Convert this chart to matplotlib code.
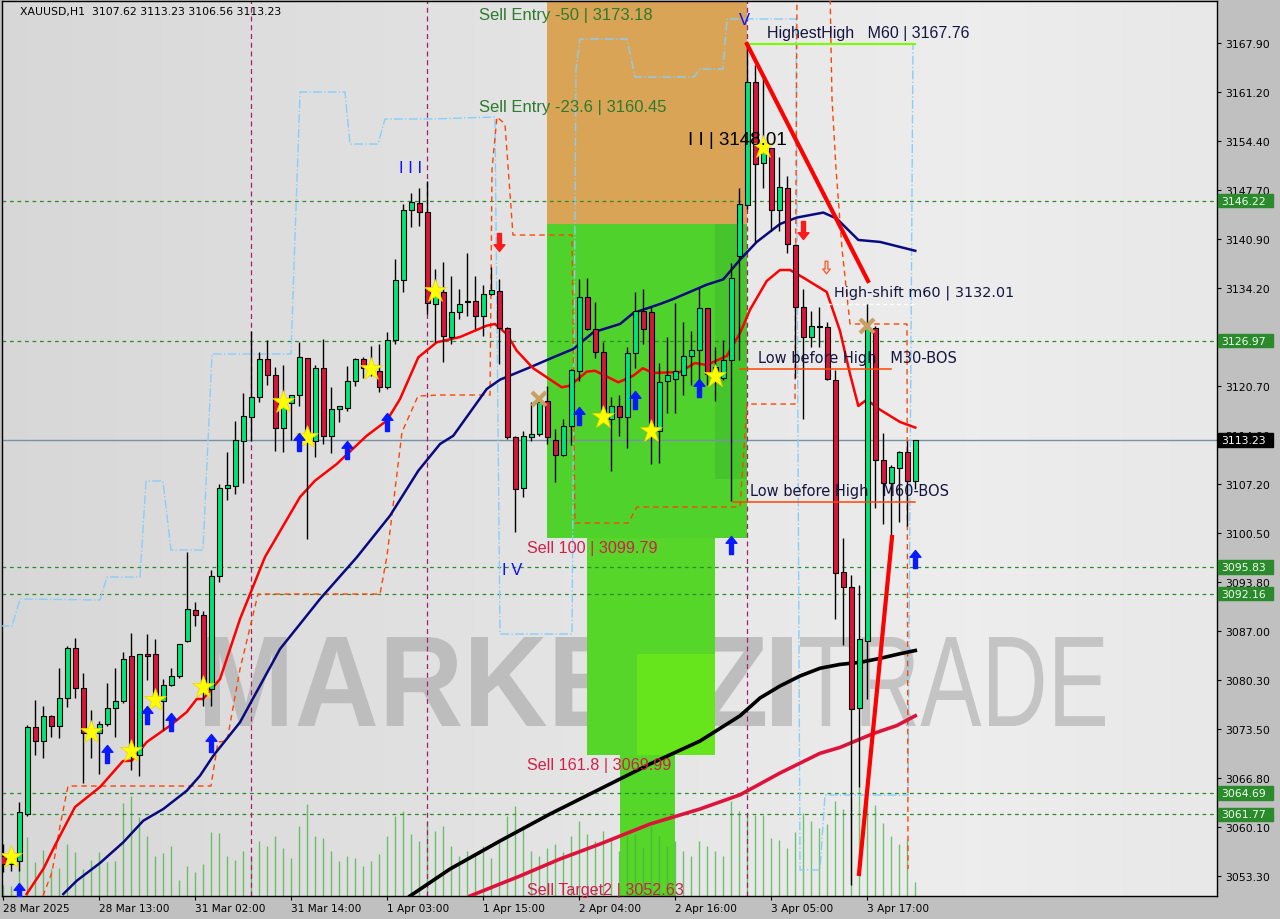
import numpy as np
import matplotlib.pyplot as plt
from matplotlib.path import Path
from matplotlib.patches import Rectangle, PathPatch
from matplotlib.textpath import TextPath
from matplotlib.font_manager import FontProperties
from matplotlib.transforms import blended_transform_factory, Affine2D

# XAUUSD H1 -- bar 0 = 28 Mar 2025 01:00, bar 114 = 3 Apr 2025 23:00
opens = [3056.09, 3054.95, 3055.41, 3061.83, 3073.76, 3071.83, 3075.31, 3073.89, 3077.75, 3084.63,
         3079.12, 3072.56, 3072.93, 3074.17, 3076.37, 3077.33, 3083.52, 3069.99, 3083.80, 3083.80,
         3077.33, 3079.62, 3080.77, 3085.59, 3089.94, 3089.21, 3079.03, 3094.61, 3106.64, 3106.91,
         3113.19, 3116.40, 3119.16, 3124.38, 3122.22, 3114.89, 3118.33, 3119.43, 3124.52, 3113.19,
         3123.15, 3113.79, 3117.55, 3117.73, 3121.36, 3124.38, 3123.32, 3122.73, 3120.53, 3127.08,
         3135.33, 3144.96, 3145.84, 3144.61, 3131.99, 3133.60, 3127.41, 3130.85, 3132.34, 3132.36,
         3130.30, 3133.33, 3133.74, 3128.65, 3113.65, 3106.64, 3113.65, 3114.07, 3118.61, 3113.32,
         3111.26, 3115.17, 3122.81, 3132.91, 3128.55, 3125.43, 3116.17, 3117.92, 3116.40, 3125.21,
         3131.03, 3130.93, 3114.51, 3121.40, 3121.67, 3122.27, 3124.84, 3125.70, 3131.44, 3123.34,
         3121.77, 3124.23, 3138.58, 3145.56, 3162.55, 3151.35, 3153.41, 3144.96, 3147.91, 3140.15,
         3131.59, 3127.52, 3128.84, 3128.84, 3121.56, 3095.19, 3093.02, 3076.43, 3085.67, 3128.63,
         3110.53, 3107.42, 3109.44, 3111.62, 3107.62]
highs = [3057.70, 3057.02, 3063.44, 3074.07, 3077.55, 3076.73, 3075.45, 3081.92, 3084.98, 3086.00,
         3081.19, 3076.14, 3074.62, 3079.85, 3081.92, 3084.07, 3086.73, 3083.84, 3086.59, 3085.86,
         3080.40, 3081.87, 3085.22, 3097.91, 3090.95, 3089.80, 3095.44, 3107.23, 3111.59, 3115.90,
         3119.75, 3128.24, 3125.35, 3127.04, 3123.28, 3123.60, 3119.47, 3126.72, 3124.60, 3123.60,
         3127.18, 3120.53, 3118.00, 3123.50, 3124.52, 3124.66, 3126.25, 3126.49, 3128.10, 3138.18,
         3145.75, 3147.26, 3147.91, 3148.95, 3136.81, 3137.73, 3135.80, 3134.05, 3139.01, 3135.80,
         3134.60, 3137.04, 3135.43, 3128.80, 3113.80, 3114.48, 3118.47, 3119.38, 3120.75, 3114.79,
         3116.17, 3123.00, 3135.43, 3135.53, 3132.22, 3126.80, 3119.16, 3119.47, 3126.03, 3133.68,
         3134.05, 3131.54, 3123.83, 3127.52, 3132.18, 3129.51, 3128.28, 3134.25, 3131.50, 3126.08,
         3127.04, 3137.59, 3147.91, 3167.76, 3164.87, 3163.14, 3153.50, 3152.23, 3149.63, 3140.30,
         3134.05, 3130.96, 3131.59, 3129.49, 3122.93, 3099.81, 3094.76, 3093.29, 3132.01, 3128.90,
         3114.22, 3109.87, 3111.70, 3113.14, 3113.23]
lows = [3053.85, 3053.99, 3054.03, 3061.60, 3069.95, 3069.53, 3072.46, 3072.29, 3076.59, 3077.75,
        3066.05, 3069.53, 3067.33, 3073.94, 3072.46, 3077.10, 3067.92, 3067.10, 3080.31, 3077.20,
        3073.43, 3079.40, 3080.60, 3085.49, 3087.73, 3076.73, 3076.73, 3093.79, 3105.07, 3105.85,
        3107.37, 3113.19, 3118.55, 3120.85, 3111.81, 3111.67, 3113.32, 3118.00, 3099.66, 3110.90,
        3112.73, 3111.49, 3115.80, 3117.31, 3120.75, 3121.77, 3122.13, 3119.93, 3120.30, 3126.49,
        3133.68, 3142.54, 3142.76, 3130.62, 3126.72, 3124.05, 3126.49, 3129.93, 3130.38, 3128.55,
        3127.63, 3133.20, 3123.74, 3113.42, 3100.67, 3105.40, 3113.19, 3113.87, 3112.73, 3107.54,
        3111.04, 3112.59, 3121.36, 3128.40, 3124.52, 3115.72, 3109.06, 3113.87, 3112.14, 3123.15,
        3126.49, 3109.98, 3110.08, 3116.95, 3116.95, 3119.42, 3120.89, 3120.89, 3120.89, 3118.67,
        3121.60, 3104.92, 3124.33, 3145.00, 3140.53, 3147.91, 3142.03, 3142.03, 3139.06, 3121.87,
        3116.23, 3126.05, 3126.05, 3121.48, 3088.67, 3085.13, 3052.06, 3065.56, 3077.65, 3103.90,
        3101.73, 3100.08, 3102.00, 3101.45, 3106.56]
closes = [3054.95, 3056.05, 3062.06, 3073.76, 3071.83, 3075.31, 3073.89, 3077.79, 3084.63, 3079.12,
          3072.93, 3073.52, 3074.17, 3076.37, 3077.33, 3083.11, 3070.54, 3083.80, 3083.61, 3077.33,
          3079.62, 3080.77, 3085.18, 3089.99, 3089.21, 3079.03, 3094.61, 3106.64, 3107.09, 3113.28,
          3116.54, 3119.16, 3124.38, 3122.22, 3114.89, 3118.51, 3119.43, 3124.66, 3113.19, 3123.15,
          3113.79, 3117.55, 3117.92, 3121.36, 3124.38, 3123.15, 3122.36, 3120.53, 3127.08, 3135.33,
          3144.96, 3145.98, 3144.61, 3132.13, 3133.37, 3127.55, 3130.85, 3132.03, 3132.27, 3130.38,
          3133.33, 3133.88, 3128.65, 3113.65, 3106.54, 3113.79, 3114.07, 3118.47, 3113.65, 3111.26,
          3115.17, 3122.91, 3132.91, 3128.55, 3125.43, 3116.62, 3117.92, 3116.40, 3125.21, 3131.07,
          3128.55, 3115.25, 3121.27, 3122.27, 3122.77, 3124.84, 3125.70, 3131.44, 3122.36, 3122.61,
          3124.23, 3135.62, 3145.69, 3162.55, 3151.25, 3153.07, 3144.96, 3148.06, 3140.30, 3131.59,
          3127.52, 3128.99, 3128.76, 3121.62, 3094.92, 3093.02, 3076.28, 3085.95, 3128.63, 3110.53,
          3107.42, 3109.55, 3111.62, 3107.62, 3113.23]
volumes = [440, 400, 1360, 2360, 1360, 1840, 1080, 1120, 2080, 1760,
           1080, 1440, 1760, 1360, 1400, 3720, 4000, 3160, 2400, 1600,
           1720, 2000, 640, 1200, 960, 1280, 2560, 2520, 1600, 1440,
           1800, 1600, 2200, 2000, 2400, 1920, 1520, 2800, 3680, 2400,
           2320, 1800, 1400, 1600, 1520, 1200, 1400, 1680, 2400, 3200,
           3400, 2480, 2200, 3000, 2600, 2800, 2000, 1600, 1800, 1680,
           2000, 1520, 2200, 3200, 3600, 2800, 1800, 1600, 1920, 2080,
           1760, 2400, 3000, 2480, 2200, 2600, 2320, 1800, 2400, 2480,
           1920, 2800, 2400, 2000, 2200, 1800, 1600, 2200, 2000, 1800,
           1600, 3800, 3400, 3240, 3240, 3240, 2320, 2240, 1920, 2560,
           3320, 3000, 2720, 2880, 3800, 3480, 3960, 4360, 4120, 3640,
           2920, 2400, 2080, 2240, 560]

date_bars = [0, 12, 24, 36, 48, 60, 72, 84, 96, 108]
date_labels = ['28 Mar 2025', '28 Mar 13:00', '31 Mar 02:00', '31 Mar 14:00', '1 Apr 03:00',
               '1 Apr 15:00', '2 Apr 04:00', '2 Apr 16:00', '3 Apr 05:00', '3 Apr 17:00']
price_ticks = [3167.90, 3161.20, 3154.40, 3147.70, 3140.90, 3134.20, 3127.50, 3120.70, 3114.00,
               3107.20, 3100.50, 3093.80, 3087.00, 3080.30, 3073.50, 3066.80, 3060.10, 3053.30]
levels = [3146.22, 3126.97, 3095.83, 3092.16, 3064.69, 3061.77]
last_price = 3113.23
separator_bars = [31, 53, 93]

# indicator lines (x = bar, y = price)
ma_fast_x = [2.92, 5.0, 6.68, 8.96, 12.09, 14.96, 16.05, 17.93, 20.84, 22.93, 24.18, 24.96, 27.09,
             29.59, 32.71, 37.09, 38.96, 41.68, 45.43, 47.93, 49.59, 51.88, 54.18, 57.09, 60.43,
             61.46, 62.93, 64.18, 66.25, 67.93, 69.8, 70.84, 72.93, 73.96, 76.88, 78.75, 79.93,
             81.25, 84.59, 86.46, 87.93, 90.43, 92.09, 93.34, 95.43, 97.09, 98.34, 100.0, 102.93,
             104.59, 105.84, 106.88, 107.93, 109.59, 112.09, 114.0]
ma_fast_y = [3050.82, 3054.26, 3057.98, 3062.79, 3065.54, 3069.12, 3069.16, 3071.73, 3073.98,
             3075.86, 3077.65, 3077.65, 3080.40, 3088.66, 3097.19, 3105.44, 3107.68, 3109.98,
             3113.87, 3115.94, 3118.92, 3124.66, 3126.72, 3127.45, 3129.01, 3129.24, 3127.86,
             3125.57, 3123.14, 3121.91, 3120.53, 3120.75, 3122.68, 3122.81, 3121.22, 3122.13,
             3123.15, 3122.50, 3122.64, 3123.87, 3123.60, 3124.84, 3128.00, 3131.21, 3135.16,
             3136.67, 3136.67, 3135.62, 3133.64, 3128.28, 3122.36, 3117.96, 3118.83, 3117.45,
             3115.76, 3114.99]
ma_mid_x = [7.5, 9.18, 12.09, 15.0, 17.5, 20.0, 22.93, 24.59, 26.25, 29.59, 34.59, 39.59, 44.18,
            48.34, 51.88, 54.59, 56.25, 60.43, 62.09, 65.84, 68.75, 71.25, 73.75, 77.09, 78.75,
            82.09, 83.75, 87.93, 90.0, 92.09, 94.18, 97.09, 99.18, 102.5, 104.18, 106.88, 109.59, 114.0]
ma_mid_y = [3050.82, 3052.65, 3055.09, 3057.94, 3060.91, 3062.52, 3065.03, 3067.10, 3069.85,
            3074.45, 3084.53, 3091.41, 3097.14, 3102.87, 3109.06, 3112.73, 3113.87, 3120.30,
            3121.58, 3123.28, 3124.66, 3125.80, 3128.10, 3129.24, 3130.75, 3131.99, 3132.68,
            3134.65, 3135.38, 3138.09, 3140.53, 3143.00, 3143.88, 3144.57, 3143.74, 3140.80,
            3140.53, 3139.31]
ma_slow_x = [50.84, 55.84, 62.09, 68.34, 74.59, 80.84, 87.09, 92.09, 94.59, 97.09, 99.59, 102.09,
             104.59, 107.09, 109.59, 112.09, 114.0]
ma_slow_y = [3050.55, 3054.26, 3058.12, 3061.83, 3065.27, 3068.71, 3071.87, 3075.34, 3077.79,
             3079.44, 3080.82, 3081.88, 3082.41, 3082.69, 3083.24, 3083.88, 3084.32]
ma_long_x = [58.34, 64.59, 69.59, 74.59, 80.84, 87.09, 92.09, 97.09, 102.09, 104.59, 108.75, 111.68, 114.0]
ma_long_y = [3050.55, 3053.30, 3055.64, 3057.70, 3060.45, 3062.52, 3064.47, 3067.47, 3070.18,
             3070.99, 3072.90, 3073.99, 3075.34]

# step envelopes
env_blue_x = [-0.41, 1.09, 2.09, 12.09, 12.96, 17.09, 17.84, 19.96, 20.96, 24.96, 26.09, 35.96,
              37.09, 42.71, 43.34, 46.84, 47.71, 53.59, 61.46, 62.09, 71.09, 71.59, 72.09, 77.96,
              78.96, 86.34, 87.09, 89.96, 90.46, 99.09, 99.59, 102.09, 102.71, 113.09, 113.71, 113.96]
env_blue_y = [3087.69, 3087.69, 3091.41, 3091.27, 3094.43, 3094.43, 3107.64, 3107.64, 3098.15,
              3098.15, 3125.11, 3125.11, 3161.16, 3161.16, 3154.00, 3154.00, 3157.44, 3157.44,
              3157.72, 3086.59, 3086.59, 3164.32, 3168.45, 3168.45, 3163.22, 3163.22, 3164.32,
              3164.32, 3171.20, 3171.20, 3054.13, 3054.13, 3064.44, 3064.44, 3167.76, 3167.76]
env_red_x = [4.96, 6.09, 7.09, 8.09, 25.96, 26.84, 27.96, 29.59, 31.84, 47.09, 47.96, 49.84, 51.84,
             54.59, 60.84, 61.09, 61.71, 62.71, 63.71, 71.09, 71.46, 78.09, 79.21, 92.09, 92.96,
             98.96, 99.21]
env_red_y = [3050.55, 3053.85, 3060.18, 3065.68, 3065.68, 3071.74, 3071.88, 3081.78, 3092.09,
             3092.09, 3097.32, 3114.38, 3119.33, 3119.47, 3119.47, 3150.56, 3157.72, 3156.75,
             3141.48, 3141.48, 3101.86, 3101.86, 3104.06, 3104.06, 3118.23, 3118.23, 3175.0]
env_red2_x = [103.34, 103.59, 104.09, 104.84, 105.84, 112.96, 113.09]
env_red2_y = [3175.0, 3160.19, 3150.56, 3139.56, 3129.24, 3129.24, 3054.26]

# signal markers (bar, price)
star_x = [1, 11, 16, 19, 25, 35, 38, 46, 54, 75, 81, 89, 95]
star_y = [3055.92, 3073.11, 3070.54, 3077.55, 3079.26, 3118.55, 3113.73, 3123.05, 3133.82,
          3116.40, 3114.56, 3122.09, 3153.59]
buy_x = [2, 13, 18, 21, 26, 37, 43, 48, 72, 79, 87, 91, 114]
buy_y = [3051.10, 3070.09, 3075.45, 3074.53, 3071.60, 3113.01, 3111.95, 3115.80, 3116.54,
         3118.83, 3120.44, 3098.84, 3096.91]
sell_x = [62, 100]
sell_y = [3140.52, 3142.17]
cross_x = [67, 108]
cross_y = [3118.92, 3128.96]

# fibo / structure levels
sell_entry_50 = 3173.18
sell_entry_236 = 3160.45
zone_split = 3143.00
sell_100 = 3099.79
sell_1618 = 3069.99
sell_target2 = 3052.63
highest_high = 3167.76
high_shift = 3132.01
low_m30 = 3123.05
low_m60 = 3104.77
trend1_x, trend1_y = [92.96, 108.09], [3167.76, 3135.16]
trend2_x, trend2_y = [106.96, 111.09], [3053.58, 3099.94]

XMIN, XMAX = -0.1625, 151.7125
YMIN, YMAX = 3050.55, 3173.675


def fxy(x, y):
    # pixel position -> figure fraction (for labels)
    return x / 1280, 1 - y / 920


def dxy(x, y):
    # pixel position -> data coords (for labels placed on the chart)
    return (x - 3.3) / 8, 3173.95 - y / 7.269


def watermark(ax, text, x0, x1, ytop, ybot, weight, color):
    tp = TextPath((0, 0), text, size=100, prop=FontProperties(family='Liberation Sans', weight=weight))
    ext = tp.get_extents()
    tr = (Affine2D().translate(-ext.x0, -ext.y0)
          .scale((x1 - x0) / ext.width, (ybot - ytop) / ext.height)
          .translate(x0, 920 - ybot))
    ax.add_patch(PathPatch(tp, transform=tr, facecolor=color, lw=0, zorder=1))


fig = plt.figure(figsize=(12.8, 9.2), dpi=100, facecolor='#c0c0c0')
ax = fig.add_axes([2 / 1280, 23 / 920, 1215 / 1280, 895 / 920])
ax.set_xlim(XMIN, XMAX)
ax.set_ylim(YMIN, YMAX)

# background
g = np.linspace(0, 1, 300)
shade = 0.845 + 0.085 * np.clip(g * 1.25, 0, 1) - 0.02 * np.clip((g - 0.8) * 5, 0, 1)
img = np.dstack([np.tile(shade, (2, 1))] * 3)
ax.imshow(img, extent=[XMIN, XMAX, YMIN, YMAX], aspect='auto', zorder=0, interpolation='bilinear')

# watermark
watermark(ax, 'MARKETZ', 205, 765, 638, 727, 'bold', '#bdbdbd')
ax.add_patch(Rectangle(dxy(772, 727), 20 / 8, 89 / 7.269, color='#c3c3c3', zorder=1, lw=0))
watermark(ax, 'TRADE', 800, 1105, 638, 727, 'normal', '#c4c4c4')

# zones
ax.add_patch(Rectangle((67.95, zone_split), 25, 35, color='#d9a456', lw=0, zorder=1.2))
ax.add_patch(Rectangle((67.95, sell_100), 25, zone_split - sell_100, color='#4fd22c', lw=0, zorder=1.2))
ax.add_patch(Rectangle((89.0, 3107.9), 3.95, zone_split - 3107.9, color='#45c42c', lw=0, zorder=1.25))
ax.add_patch(Rectangle((72.95, sell_1618), 16, sell_100 - sell_1618, color='#55d628', lw=0, zorder=1.2))
ax.add_patch(Rectangle((79.2, sell_1618), 9.75, 13.9, color='#66e41c', lw=0, zorder=1.25))
ax.add_patch(Rectangle((77.1, YMIN - 1), 6.9, sell_1618 - YMIN + 1, color='#55d628', lw=0, zorder=1.2))

# volumes
vol_tr = ax.get_xaxis_transform()
ax.vlines(range(len(volumes)), 0, np.array(volumes) / 35800, transform=vol_tr,
          color='#44b444', lw=1, alpha=0.75, zorder=2)

# horizontal levels
for lv in levels:
    ax.axhline(lv, color='#2b8a2b', lw=0.9, dashes=(3, 3), zorder=2.5)
ax.axhline(last_price, color='#7890a8', lw=1, zorder=2.5)
for sb in separator_bars:
    ax.axvline(sb, color='#a0206e', lw=0.9, dashes=(4, 3), zorder=2.5)

# envelopes and moving averages
ax.plot(env_blue_x, env_blue_y, color='#87cefa', lw=1, ls='-.', zorder=3)
ax.plot(env_red_x, env_red_y, color='#ff4500', lw=1, dashes=(4, 3), zorder=3)
ax.plot(env_red2_x, env_red2_y, color='#ff4500', lw=1, dashes=(4, 3), zorder=3)
ax.plot(ma_long_x, ma_long_y, color='#dc143c', lw=2.6, zorder=3.2)
ax.plot(ma_slow_x, ma_slow_y, color='black', lw=2.6, zorder=3.2)
ax.plot(ma_mid_x, ma_mid_y, color='#0a0a80', lw=1.8, zorder=3.2)
ax.plot(ma_fast_x, ma_fast_y, color='#ff0000', lw=1.8, zorder=3.2)

# candles
x = np.arange(len(opens))
o = np.array(opens)
c = np.array(closes)
ax.vlines(x, lows, highs, color='black', lw=1, zorder=4)
body_lo = np.minimum(o, c)
body_h = np.maximum(np.abs(c - o), 0.18)
cols = np.where(c >= o, '#00e676', '#dc143c')
ax.bar(x, body_h, bottom=body_lo, width=0.62, color=cols, edgecolor='black', linewidth=0.8, zorder=5)

# structure lines
ax.plot([93, 114], [highest_high, highest_high], color='#7cfc00', lw=1.5, zorder=5.5)
ax.plot([103, 114], [high_shift, high_shift], color='white', lw=1, dashes=(3, 2), zorder=5.5)
ax.plot([92.1, 111.0], [low_m30, low_m30], color='#ff4500', lw=1.1, zorder=5.5)
ax.plot([91.2, 114.0], [low_m60, low_m60], color='#ff4500', lw=1.1, zorder=5.5)
ax.plot(trend1_x, trend1_y, color='#ff0000', lw=3, zorder=5.6)
ax.plot(trend2_x, trend2_y, color='#ff0000', lw=3, zorder=5.6)

# markers
up_arrow = Path([(0, 1), (0.6, 0.25), (0.22, 0.25), (0.22, -1), (-0.22, -1), (-0.22, 0.25),
                 (-0.6, 0.25), (0, 1)],
                [Path.MOVETO] + [Path.LINETO] * 6 + [Path.CLOSEPOLY])
down_arrow = Path([(px, -py) for px, py in up_arrow.vertices], up_arrow.codes)
ax.plot(star_x, star_y, ls='none', marker='*', ms=17, color='#ffff00', mec='#f0d000', mew=0.5, zorder=6)
ax.plot(buy_x, buy_y, ls='none', marker=up_arrow, ms=13, color='#0a1aff', zorder=6)
ax.plot(sell_x, sell_y, ls='none', marker=down_arrow, ms=13, color='#ff1a1a', zorder=6)
ax.plot(cross_x, cross_y, ls='none', marker='x', ms=10, mew=3, color='#c8a060', zorder=6)
ax.plot([102.8], [3137.08], ls='none', marker=down_arrow, ms=9, mfc='none', mec='#ff6030', mew=1, zorder=6)

# chart labels
lbl = dict(ha='left', va='center', zorder=7)
ax.text(*dxy(479, 15), 'Sell Entry -50 | %.2f' % sell_entry_50, fontsize=12, family='Liberation Sans',
        color='#2e7a2e', **lbl)
ax.text(*dxy(479, 107), 'Sell Entry -23.6 | %.2f' % sell_entry_236, fontsize=12, family='Liberation Sans',
        color='#2e7a2e', **lbl)
ax.text(*dxy(527, 548), 'Sell 100 | %.2f' % sell_100, fontsize=11.6, family='Liberation Sans',
        color='#d0204a', **lbl)
ax.text(*dxy(527, 765), 'Sell 161.8 | %.2f' % sell_1618, fontsize=11.6, family='Liberation Sans',
        color='#d0204a', **lbl)
ax.text(*dxy(527, 890), 'Sell Target2 | %.2f' % sell_target2, fontsize=11.6, family='Liberation Sans',
        color='#d0204a', **lbl)
ax.text(*dxy(399, 168), 'I I I', fontsize=12, family='Liberation Sans', color='#1010ff', **lbl)
ax.text(*dxy(502, 570), 'I V', fontsize=12, family='Liberation Sans', color='#1010ff', **lbl)
ax.text(*dxy(739, 20), 'V', fontsize=12, family='Liberation Sans', color='#1010ff', **lbl)
ax.text(*dxy(688, 140), 'I I | 3148.01', fontsize=13.5, family='Liberation Sans', color='black', **lbl)
ax.text(*dxy(767, 33), 'HighestHigh   M60 | %.2f' % highest_high, fontsize=11.5,
        family='Liberation Sans', color='#15153f', **lbl)
ax.text(*dxy(834, 293), 'High-shift m60 | %.2f' % high_shift, fontsize=10.4, color='#15153f', **lbl)
ax.text(*dxy(758, 358), 'Low before High   M30-BOS', fontsize=10.5, color='#15153f', **lbl)
ax.text(*dxy(750, 491), 'Low before High   M60-BOS', fontsize=10.5, color='#15153f', **lbl)

fig.text(*fxy(20, 12), 'XAUUSD,H1  %.2f %.2f %.2f %.2f' % (opens[-1], highs[-1], lows[-1], closes[-1]),
         fontsize=7.8, color='black', va='center', ha='left')

# axes: frame, right price scale, bottom time scale
for sp in ax.spines.values():
    sp.set_color('black')
    sp.set_linewidth(1)
ax.yaxis.tick_right()
ax.set_yticks(price_ticks)
ax.set_yticklabels(['%.2f' % p for p in price_ticks])
ax.set_xticks(date_bars)
ax.set_xticklabels(date_labels, ha='left')
ax.tick_params(axis='y', direction='out', length=3, pad=3, labelsize=7.8, colors='black')
ax.tick_params(axis='x', direction='out', length=3, pad=2, labelsize=7.6, colors='black')

# price tags on the right scale
tag_tr = blended_transform_factory(ax.transAxes, ax.transData)
for lv in levels:
    ax.add_patch(Rectangle((1.0008, lv - 0.95), 0.0455, 1.9, transform=tag_tr, color='#2b8a2b',
                           clip_on=False, zorder=8))
    ax.text(1.0035, lv, '%.2f' % lv, transform=tag_tr, fontsize=7.8, color='#f0fff0',
            va='center', ha='left', clip_on=False, zorder=9)
ax.add_patch(Rectangle((1.0008, last_price - 0.95), 0.0455, 1.9, transform=tag_tr, color='black',
                       clip_on=False, zorder=8))
ax.text(1.0035, last_price, '%.2f' % last_price, transform=tag_tr, fontsize=7.8, color='white',
        va='center', ha='left', clip_on=False, zorder=9)

fig.savefig('out.png', dpi=100, facecolor=fig.get_facecolor())
